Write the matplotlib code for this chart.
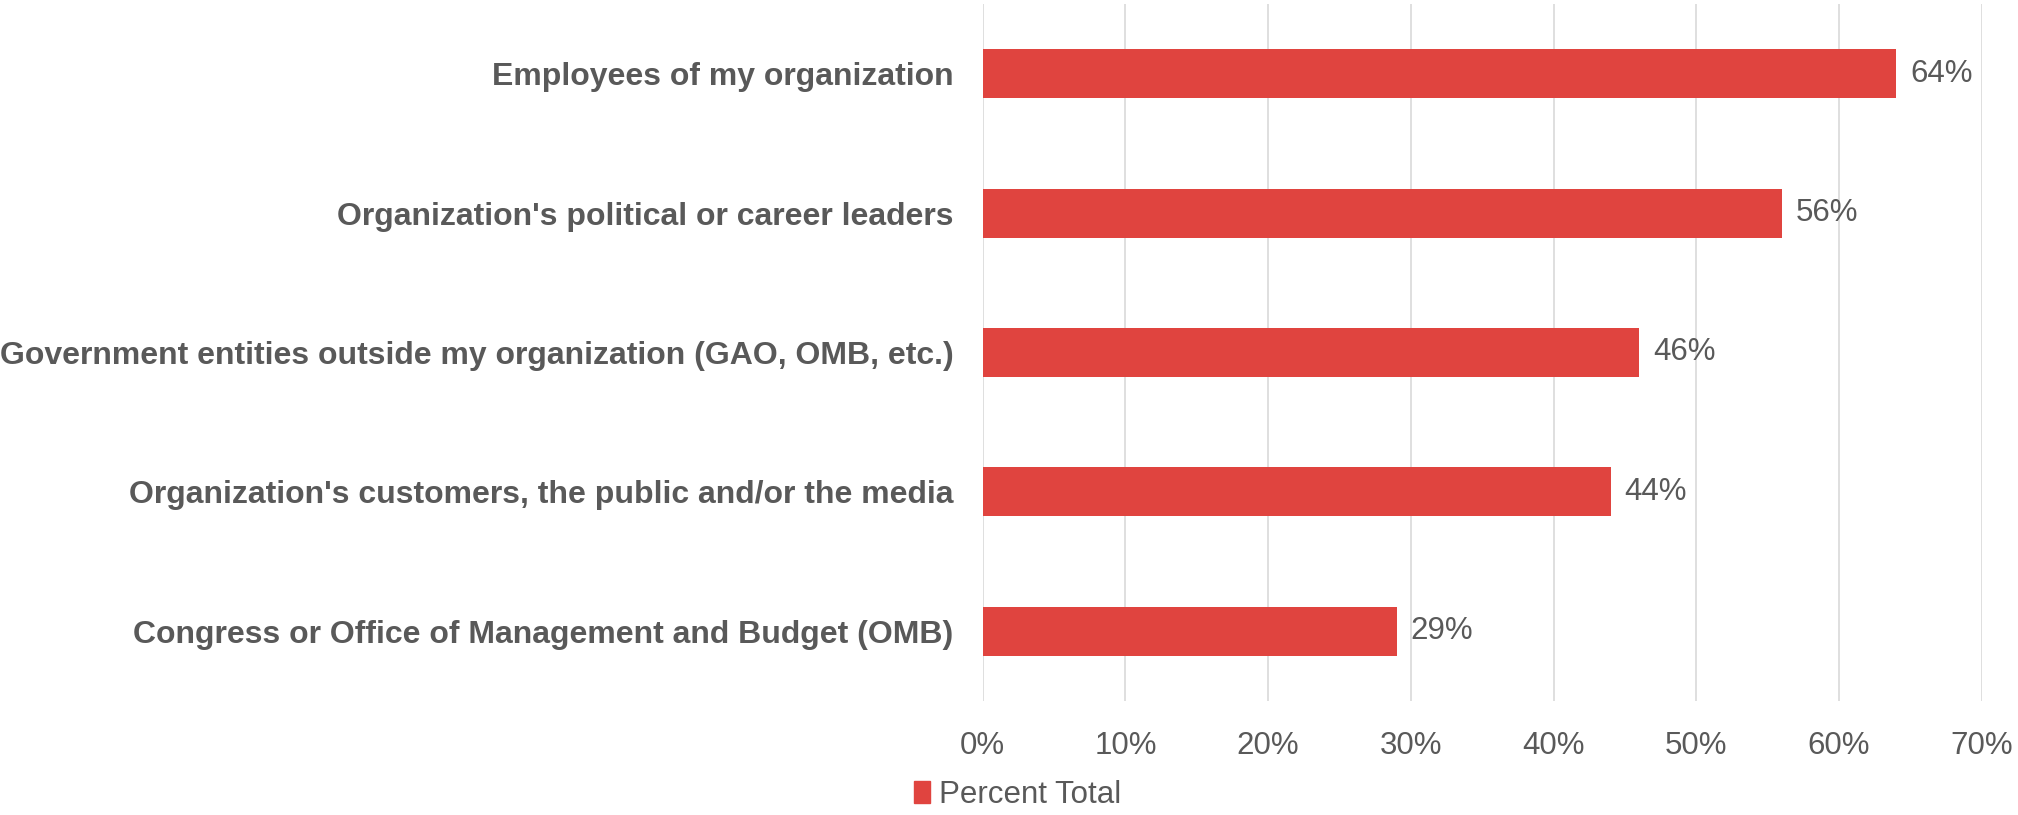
import matplotlib.pyplot as plt
from matplotlib.patches import Patch
from matplotlib.ticker import FuncFormatter

# survey results, top to bottom
categories = ['Employees of my organization',
              "Organization's political or career leaders",
              'Government entities outside my organization (GAO, OMB, etc.)',
              "Organization's customers, the public and/or the media",
              'Congress or Office of Management and Budget (OMB)']
percent_total = [64, 56, 46, 44, 29]
x_ticks = [0, 10, 20, 30, 40, 50, 60, 70]
series_name = 'Percent Total'

RED = '#E0443F'
GREY = '#595959'
FS = 22.5

plt.rcParams['font.family'] = ['Liberation Sans', 'DejaVu Sans']

fig = plt.figure(figsize=(20.18, 8.15), dpi=100)
ax = fig.add_axes([0.487, 0.14, 0.495, 0.855])

y = list(range(len(categories)))
bars = ax.barh(y, percent_total, height=0.35, color=RED, zorder=3)
ax.set_ylim(len(categories) - 0.5, -0.5)
ax.set_xlim(0, 70)
ax.set_xticks(x_ticks)
ax.xaxis.set_major_formatter(FuncFormatter(lambda v, p: f'{v:.0f}%'))
ax.set_yticks(y)
ax.set_yticklabels(categories, fontsize=23, fontweight='bold', color=GREY)

for b, v in zip(bars, percent_total):
    ax.annotate(f'{v}%', (b.get_width(), b.get_y() + b.get_height() / 2),
                xytext=(10, 0), textcoords='offset points', va='center',
                fontsize=FS, color=GREY)

ax.grid(axis='x', color='#D9D9D9', linewidth=1.2, zorder=0)
for s in ax.spines.values():
    s.set_visible(False)
ax.tick_params(axis='both', length=0)
ax.tick_params(axis='x', labelsize=FS, labelcolor=GREY, pad=22)
ax.tick_params(axis='y', pad=21)

fig.legend(handles=[Patch(color=RED, label=series_name)], loc='lower left',
           bbox_to_anchor=(0.439, -0.028), frameon=False, fontsize=FS,
           labelcolor=GREY, handlelength=0.5, handleheight=0.7, handletextpad=0.3)

fig.savefig('out.png', dpi=100)
